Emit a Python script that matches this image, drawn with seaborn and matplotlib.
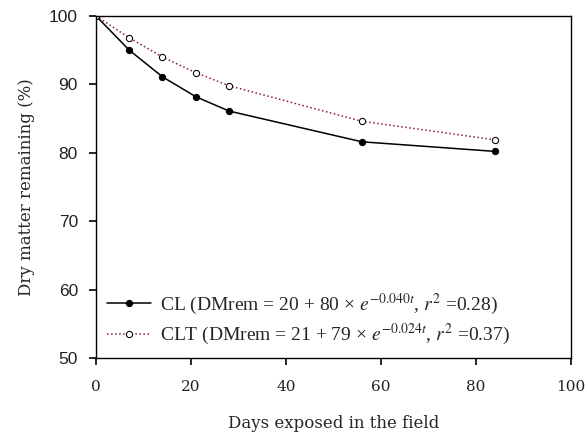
import matplotlib
matplotlib.use("Agg")
import matplotlib.pyplot as plt
import seaborn as sns
import pandas as pd

days = [0, 7, 14, 21, 28, 56, 84]
cl_values = [100, 95.0, 91.1, 88.2, 86.1, 81.6, 80.2]
clt_values = [100, 96.8, 94.0, 91.7, 89.8, 84.6, 81.9]

cl_label = r"CL (DMrem = 20 + 80 × $e^{-0.040t}$, $r^2$ =0.28)"
clt_label = r"CLT (DMrem = 21 + 79 × $e^{-0.024t}$, $r^2$ =0.37)"

df_cl = pd.DataFrame({"days": days, "dm": cl_values})
df_clt = pd.DataFrame({"days": days, "dm": clt_values})

sns.set_style("ticks")
plt.rcParams["mathtext.fontset"] = "stix"

fig = plt.figure(figsize=(5.87, 4.42), dpi=100)
ax = fig.add_axes([0.1635, 0.19, 0.809, 0.774])

sns.lineplot(data=df_cl, x="days", y="dm", ax=ax, color="black", linewidth=1.1,
             marker="o", markersize=4.5, markerfacecolor="black",
             markeredgecolor="black", label=cl_label)
sns.lineplot(data=df_clt, x="days", y="dm", ax=ax, color="#8b1a4a", linewidth=1.1,
             linestyle=":", marker="o", markersize=4.5, markerfacecolor="white",
             markeredgecolor="black", label=clt_label)

ax.set_xlim(0, 100)
ax.set_ylim(50, 100)
ax.set_xticks([0, 20, 40, 60, 80, 100])
ax.set_yticks([50, 60, 70, 80, 90, 100])
for lbl in ax.get_xticklabels():
    lbl.set_family("DejaVu Serif")
    lbl.set_fontsize(11)
for lbl in ax.get_yticklabels():
    lbl.set_family("Liberation Sans")
    lbl.set_fontsize(12.5)
ax.tick_params(direction="out", length=5, width=1.2, color="black",
               left=True, bottom=True, labelcolor="#222222")
ax.tick_params(axis="x", pad=11)
ax.tick_params(axis="y", pad=8)
for sp in ax.spines.values():
    sp.set_visible(True)
    sp.set_color("black")
    sp.set_linewidth(1)

ax.set_xlabel("Days exposed in the field", family="DejaVu Serif", fontsize=12, labelpad=15)
ax.set_ylabel("Dry matter remaining (%)", family="DejaVu Serif", fontsize=12, labelpad=10)

ax.legend(loc="lower left", bbox_to_anchor=(0.0, 0.0), frameon=False,
          prop={"family": "Liberation Serif", "size": 14},
          handlelength=2.3, handletextpad=0.45, borderaxespad=0.3,
          borderpad=0.25, labelspacing=0.25)

fig.savefig("out.png", dpi=100)
